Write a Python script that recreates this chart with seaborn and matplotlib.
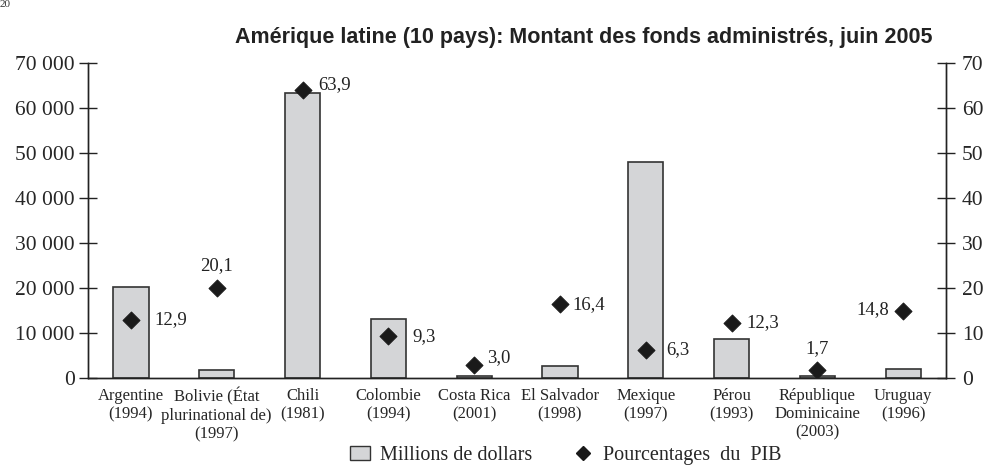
import numpy as np
import pandas as pd
import matplotlib
matplotlib.use("Agg")
import matplotlib.pyplot as plt
import seaborn as sns
from matplotlib.patches import Patch
from matplotlib.lines import Line2D

# data
pays = ["Argentine\n(1994)", "Bolivie (État\nplurinational de)\n(1997)", "Chili\n(1981)",
        "Colombie\n(1994)", "Costa Rica\n(2001)", "El Salvador\n(1998)", "Mexique\n(1997)",
        "Pérou\n(1993)", "République\nDominicaine\n(2003)", "Uruguay\n(1996)"]
millions = [20200, 1800, 63300, 13100, 500, 2700, 48000, 8700, 400, 2000]
pct_pib = [12.9, 20.1, 63.9, 9.3, 3.0, 16.4, 6.3, 12.3, 1.7, 14.8]
pct_txt = ["12,9", "20,1", "63,9", "9,3", "3,0", "16,4", "6,3", "12,3", "1,7", "14,8"]

# where each percentage label sits relative to its marker (points)
lab_off = [(17, 0, "left"), (0, 16, "center"), (11, 4, "left"), (17, 0, "left"),
           (9, 5, "left"), (9, 0, "left"), (15, 0, "left"), (11, 0, "left"),
           (0, 16, "center"), (-10, 1, "right")]

df = pd.DataFrame({"pays": pays, "millions": millions, "pct": pct_pib})

sns.set_style("white")
plt.rcParams["font.family"] = ["Liberation Serif", "DejaVu Serif"]

fig = plt.figure(figsize=(9.87, 4.70), dpi=100)
ax = fig.add_axes([0.0892, 0.1957, 0.8693, 0.6703])

sns.barplot(data=df, x="pays", y="millions", ax=ax, color="#d4d5d7",
            edgecolor="#333333", linewidth=1.2, width=0.41, saturation=1)
ax.set_xlim(-0.5, 9.5)
ax.set_ylim(0, 70000)
ax.set_yticks(np.arange(0, 70001, 10000))
ax.set_yticklabels([f"{v:,}".replace(",", " ") for v in range(0, 70001, 10000)], fontsize=15.5)
ax.set_xticks(range(10))
ax.set_xticklabels(pays, fontsize=12, linespacing=1.2)
ax.set_xticks(np.arange(-0.5, 10, 1), minor=True)
ax.tick_params(axis="x", which="major", length=0, pad=7)
ax.tick_params(axis="x", which="minor", direction="inout", length=13, width=1, color="#222222")
ax.tick_params(axis="y", direction="inout", length=13, width=1, color="#222222", pad=3)
ax.set_xlabel("")
ax.set_ylabel("")

ax2 = ax.twinx()
sns.scatterplot(data=df, x="pays", y="pct", ax=ax2, marker="D", s=75, color="#1a1a1a",
                edgecolor="#1a1a1a", legend=False)
ax2.set_ylim(0, 70)
ax2.set_yticks(np.arange(0, 71, 10))
ax2.set_yticklabels([str(v) for v in range(0, 71, 10)], fontsize=15.5)
ax2.tick_params(axis="y", direction="inout", length=13, width=1, color="#222222", pad=5)
ax2.set_ylabel("")

for i, (v, t) in enumerate(zip(pct_pib, pct_txt)):
    dx, dy, ha = lab_off[i]
    ax2.annotate(t, (i, v), xytext=(dx, dy), textcoords="offset points",
                 ha=ha, va="center", fontsize=13.5, color="#222222")

for a in (ax, ax2):
    a.spines["top"].set_visible(False)
    for s in ("left", "right", "bottom"):
        a.spines[s].set_color("#222222")
        a.spines[s].set_linewidth(1)

fig.text(0.945, 0.92, "Amérique latine (10 pays): Montant des fonds administrés, juin 2005",
         ha="right", va="center", fontsize=15.5, fontweight="bold",
         family=["Liberation Sans", "DejaVu Sans"], color="#222222")
fig.text(0.0, 1.0, "20", ha="left", va="top", fontsize=8, color="#333333")

handles = [Patch(facecolor="#d4d5d7", edgecolor="#333333", linewidth=1),
           Line2D([], [], marker="D", linestyle="none", color="#1a1a1a", markersize=7)]
fig.legend(handles, ["Millions de dollars", "Pourcentages  du  PIB"], loc="lower center",
           bbox_to_anchor=(0.573, -0.028), ncol=2, frameon=False, fontsize=14.5,
           handlelength=1.0, handletextpad=0.5, columnspacing=2.0)

fig.savefig("out.png", dpi=100)
